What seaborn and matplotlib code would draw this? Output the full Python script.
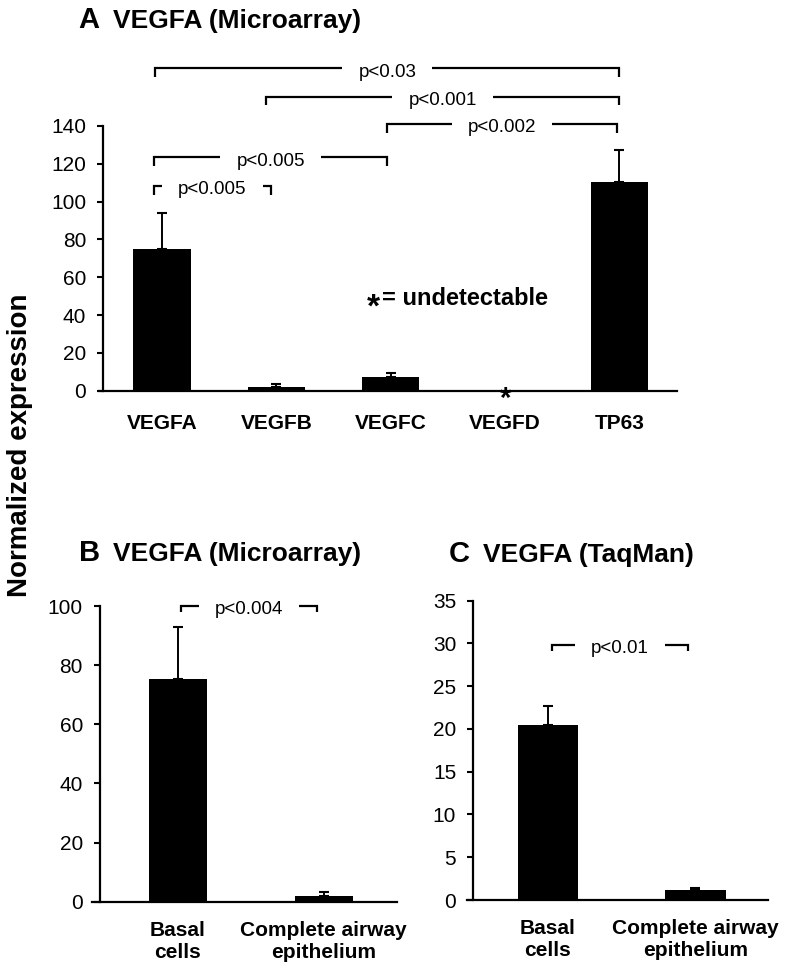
import numpy as np
import pandas as pd
import matplotlib
matplotlib.use("Agg")
import matplotlib.pyplot as plt
import seaborn as sns

# ---------------- data ----------------
genes_a = ["VEGFA", "VEGFB", "VEGFC", "VEGFD", "TP63"]
mean_a = [75.0, 2.1, 7.1, 0.0, 110.5]
errtop_a = [93.8, 3.7, 9.5, 0.0, 127.3]

groups_bc = ["Basal\ncells", "Complete airway\nepithelium"]
mean_b = [75.2, 2.0]
errtop_b = [93.0, 3.2]
mean_c = [20.45, 1.17]
errtop_c = [22.7, 1.42]

yticks_a = [0, 20, 40, 60, 80, 100, 120, 140]
yticks_b = [0, 20, 40, 60, 80, 100]
yticks_c = [0, 5, 10, 15, 20, 25, 30, 35]

# brackets: (x_start, x_end, y, label)
brackets_a = [
    (-0.06, 4.0, 170.5, "p<0.03"),
    (0.907, 4.0, 155.5, "p<0.001"),
    (1.966, 3.98, 141.0, "p<0.002"),
    (-0.067, 1.966, 123.4, "p<0.005"),
    (-0.067, 0.95, 108.3, "p<0.005"),
]
brackets_b = [(0.022, 0.952, 100.0, "p<0.004")]
brackets_c = [(0.025, 0.951, 29.8, "p<0.01")]

# ---------------- style ----------------
sns.set_style("ticks")
plt.rcParams["font.family"] = ["Liberation Sans", "DejaVu Sans"]
plt.rcParams["axes.edgecolor"] = "black"
plt.rcParams["xtick.color"] = "black"
plt.rcParams["ytick.color"] = "black"
plt.rcParams["text.color"] = "black"

fig = plt.figure(figsize=(7.86, 9.69), dpi=100)
fig.patch.set_facecolor("white")
axA = fig.add_axes([0.1263, 0.5968, 0.7346, 0.2732])
axB = fig.add_axes([0.1167, 0.0695, 0.3888, 0.3051])
axC = fig.add_axes([0.5945, 0.0712, 0.3830, 0.3089])


def draw_bars(ax, cats, means, tops, width):
    df = pd.DataFrame({"cat": cats, "val": means})
    sns.barplot(data=df, x="cat", y="val", color="black", saturation=1,
                width=width, linewidth=0, ax=ax, errorbar=None)
    idx = [i for i, m in enumerate(means) if m > 0]
    lo = np.zeros(len(idx))
    hi = np.array([tops[i] - means[i] for i in idx])
    ax.errorbar(idx, [means[i] for i in idx], yerr=[lo, hi], fmt="none",
                ecolor="black", elinewidth=1.4, capsize=3.8, capthick=1.5,
                zorder=5)


def style(ax, ylim, yticks, xlim, spine_x, xpad):
    ax.set_xlim(xlim)
    ax.set_ylim(ylim)
    ax.set_yticks(yticks)
    ax.set_xlabel("")
    ax.set_ylabel("")
    ax.spines[["top", "right"]].set_visible(False)
    ax.spines["left"].set_position(("data", spine_x))
    for s in ["left", "bottom"]:
        ax.spines[s].set_linewidth(1.6)
        ax.spines[s].set_color("black")
    ax.tick_params(axis="y", length=4.3, width=1.5, pad=8, labelsize=15)
    ax.tick_params(axis="x", length=0, pad=xpad, labelsize=15)
    for lab in ax.get_xticklabels():
        lab.set_fontweight("bold")
    ax.set_facecolor("white")


def bracket(ax, x1, x2, y, tip, label, fs=13.5, gap_px=16):
    xm = (x1 + x2) / 2
    t = ax.annotate(label, xy=(xm, y), xytext=(0, -6),
                    textcoords="offset points", ha="center", va="baseline",
                    fontsize=fs, annotation_clip=False)
    fig.canvas.draw()
    r = fig.canvas.get_renderer()
    bb = t.get_window_extent(r)
    inv = ax.transData.inverted()
    y_disp = ax.transData.transform((xm, y))[1]
    xl = inv.transform((bb.x0 - gap_px, y_disp))[0]
    xr = inv.transform((bb.x1 + gap_px, y_disp))[0]
    kw = dict(color="black", lw=1.6, clip_on=False, solid_joinstyle="miter",
              solid_capstyle="butt")
    ax.plot([x1, x1, xl], [y - tip, y, y], **kw)
    ax.plot([xr, x2, x2], [y, y, y - tip], **kw)


# ---------------- panel A ----------------
draw_bars(axA, genes_a, mean_a, errtop_a, 0.5)
style(axA, (0, 140), yticks_a, (-0.549, 4.5), -0.513, 16.5)
for x1, x2, y, lab in brackets_a:
    bracket(axA, x1, x2, y, 4.6, lab)

# undetectable marker on VEGFD
axA.annotate("*", xy=(genes_a.index("VEGFD"), 0), xytext=(0, -12),
             textcoords="offset points", ha="center", va="baseline",
             fontsize=21, fontweight="bold", annotation_clip=False, zorder=6)
axA.annotate("*", xy=(1.846, 49.7), xytext=(0, -14),
             textcoords="offset points", ha="center", va="baseline",
             fontsize=24, fontweight="bold")
axA.text(1.92, 45.3, "= undetectable", ha="left", va="baseline",
         fontsize=17, fontweight="bold")

# ---------------- panel B ----------------
draw_bars(axB, groups_bc, mean_b, errtop_b, 0.4)
style(axB, (0, 100), yticks_b, (-0.59, 1.504), -0.533, 14)
for x1, x2, y, lab in brackets_b:
    bracket(axB, x1, x2, y, 2.0, lab)

# ---------------- panel C ----------------
draw_bars(axC, groups_bc, mean_c, errtop_c, 0.41)
style(axC, (0, 35), yticks_c, (-0.547, 1.494), -0.506, 14)
for x1, x2, y, lab in brackets_c:
    bracket(axC, x1, x2, y, 0.7, lab)

# ---------------- titles & label ----------------
fig.text(78 / 786, 1 - 28 / 969, "A", fontsize=21, fontweight="bold",
         ha="left", va="baseline")
fig.text(113 / 786, 1 - 28 / 969, "VEGFA (Microarray)", fontsize=19,
         fontweight="bold", ha="left", va="baseline")
fig.text(79 / 786, 1 - 561 / 969, "B", fontsize=21, fontweight="bold",
         ha="left", va="baseline")
fig.text(112.7 / 786, 1 - 561 / 969, "VEGFA (Microarray)", fontsize=19,
         fontweight="bold", ha="left", va="baseline")
fig.text(449 / 786, 1 - 562 / 969, "C", fontsize=21, fontweight="bold",
         ha="left", va="baseline")
fig.text(482.7 / 786, 1 - 562 / 969, "VEGFA (TaqMan)", fontsize=19,
         fontweight="bold", ha="left", va="baseline")

fig.text(0.026, 1 - 445.5 / 969, "Normalized expression", rotation=90,
         fontsize=20, fontweight="bold", ha="center", va="center")

fig.savefig("out.png", dpi=100, facecolor="white")
